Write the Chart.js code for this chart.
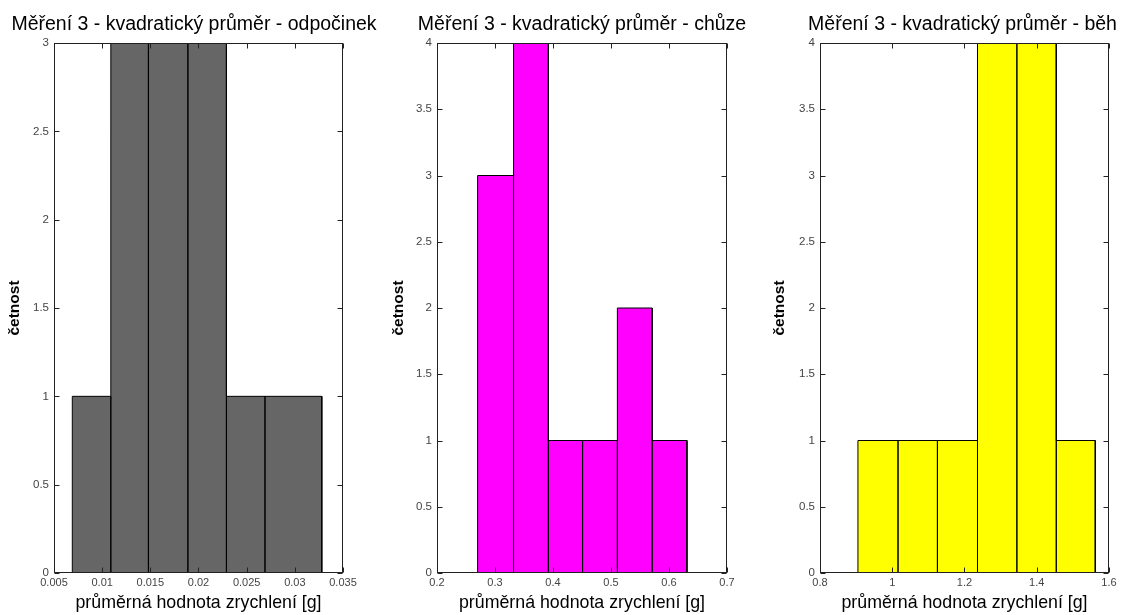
<!DOCTYPE html>
<html lang="cs">
    <head>
        <meta charset="UTF-8" />
        <title>Měření 3 - kvadratický průměr</title>
        <script src="https://cdn.jsdelivr.net/npm/chart.js@4.4.0/dist/chart.umd.min.js"></script>
        <style>
            html, body { margin: 0; padding: 0; background: #fff; overflow: hidden; }
            canvas { position: absolute; top: 0; }
        </style>
    </head>
    <body>
        <canvas id="c1" width="388" height="615" style="left:0px"></canvas>
        <canvas id="c2" width="404" height="615" style="left:380px"></canvas>
        <canvas id="c3" width="405" height="615" style="left:760px"></canvas>
        <script>
            // histogram data (bin edges + counts)
            const titles = [
                "Měření 3 - kvadratický průměr - odpočinek",
                "Měření 3 - kvadratický průměr - chůze",
                "Měření 3 - kvadratický průměr - běh"
            ];
            const xTitle = "průměrná hodnota zrychlení [g]";
            const yTitle = "četnost";

            const edges1 = [0.0069, 0.0109, 0.0148, 0.0189, 0.0229, 0.0269, 0.0328];
            const counts1 = [1, 3, 3, 3, 1, 1];
            const edges2 = [0.270, 0.332, 0.392, 0.451, 0.511, 0.571, 0.631];
            const counts2 = [3, 4, 1, 1, 2, 1];
            const edges3 = [0.905, 1.016, 1.125, 1.236, 1.345, 1.454, 1.562];
            const counts3 = [1, 1, 1, 4, 4, 1];

            const xTicks1 = [0.005, 0.01, 0.015, 0.02, 0.025, 0.03, 0.035];
            const xTicks2 = [0.2, 0.3, 0.4, 0.5, 0.6, 0.7];
            const xTicks3 = [0.8, 1, 1.2, 1.4, 1.6];
            const yTicks1 = [0, 0.5, 1, 1.5, 2, 2.5, 3];
            const yTicks2 = [0, 0.5, 1, 1.5, 2, 2.5, 3, 3.5, 4];
            const yTicks3 = [0, 0.5, 1, 1.5, 2, 2.5, 3, 3.5, 4];

            const colors = ['#666666', '#ff00ff', '#ffff00'];
            const FONT = '"Liberation Sans", Arial, sans-serif';

            // matlab-like box with inward ticks on all four sides
            const boxTicks = {
                id: 'boxTicks',
                afterDatasetsDraw(chart) {
                    const {ctx, chartArea: a, scales: {x, y}} = chart;
                    const L = Math.round(a.left) + 0.5, R = Math.round(a.right) - 0.5;
                    const T = Math.round(a.top) + 0.5, B = Math.round(a.bottom) - 0.5;
                    ctx.save();
                    ctx.strokeStyle = '#222';
                    ctx.lineWidth = 1;
                    ctx.beginPath();
                    x.ticks.forEach(t => {
                        const px = Math.round(x.getPixelForValue(t.value)) + 0.5;
                        ctx.moveTo(px, B); ctx.lineTo(px, B - 5);
                        ctx.moveTo(px, T); ctx.lineTo(px, T + 5);
                    });
                    y.ticks.forEach(t => {
                        const py = Math.round(y.getPixelForValue(t.value)) + 0.5;
                        ctx.moveTo(L, py); ctx.lineTo(L + 5, py);
                        ctx.moveTo(R, py); ctx.lineTo(R - 5, py);
                    });
                    ctx.stroke();
                    ctx.strokeRect(L, T, R - L, B - T);
                    ctx.restore();
                }
            };

            function histPoints(edges, counts) {
                const pts = [{x: edges[0], y: 0}];
                counts.forEach((c, i) => {
                    pts.push({x: edges[i], y: c});
                    pts.push({x: edges[i + 1], y: c});
                    pts.push({x: edges[i + 1], y: 0});
                });
                return pts;
            }

            function makeChart(id, title, edges, counts, xTicks, yTicks, color, yAxisW, padRight, yTitlePad) {
                const ctx = document.getElementById(id).getContext('2d');
                return new Chart(ctx, {
                    type: 'scatter',
                    data: {
                        datasets: [{
                            data: histPoints(edges, counts),
                            showLine: true,
                            fill: 'origin',
                            backgroundColor: color,
                            borderColor: '#000',
                            borderWidth: 1,
                            pointRadius: 0,
                            tension: 0
                        }]
                    },
                    options: {
                        responsive: false,
                        animation: false,
                        devicePixelRatio: 1,
                        layout: { padding: 0 },
                        plugins: {
                            legend: { display: false },
                            tooltip: { enabled: false },
                            title: {
                                display: true,
                                text: title,
                                color: '#000',
                                font: { family: FONT, size: 19.5, weight: 'normal' },
                                padding: { top: 13.3, bottom: 6.3 }
                            }
                        },
                        scales: {
                            x: {
                                type: 'linear',
                                min: xTicks[0],
                                max: xTicks[xTicks.length - 1],
                                grid: { display: false, drawTicks: false },
                                border: { display: false },
                                afterBuildTicks: s => { s.ticks = xTicks.map(v => ({value: v})); },
                                afterFit: s => { s.height = 42; },
                                ticks: {
                                    autoSkip: false,
                                    maxRotation: 0,
                                    padding: 3,
                                    color: '#444',
                                    font: { family: FONT, size: 11 },
                                    callback: v => String(v)
                                },
                                title: {
                                    display: true,
                                    text: xTitle,
                                    color: '#000',
                                    font: { family: FONT, size: 17.8 },
                                    padding: { top: 0, bottom: 1.3 }
                                }
                            },
                            y: {
                                type: 'linear',
                                min: yTicks[0],
                                max: yTicks[yTicks.length - 1],
                                grid: { display: false, drawTicks: false },
                                border: { display: false },
                                afterBuildTicks: s => { s.ticks = yTicks.map(v => ({value: v})); },
                                afterFit: s => { s.width = yAxisW; },
                                ticks: {
                                    padding: 5,
                                    color: '#444',
                                    font: { family: FONT, size: 11.5 },
                                    callback: v => String(v)
                                },
                                title: {
                                    display: true,
                                    text: yTitle,
                                    color: '#000',
                                    font: { family: FONT, size: 15.5, weight: 'bold' },
                                    padding: { top: yTitlePad, bottom: 0 }
                                }
                            },
                            // empty right axis, only keeps the plot where the title wants it
                            yRight: {
                                type: 'linear',
                                position: 'right',
                                grid: { display: false, drawTicks: false },
                                border: { display: false },
                                ticks: { display: false },
                                afterFit: s => { s.width = padRight; }
                            }
                        }
                    },
                    plugins: [boxTicks]
                });
            }

            makeChart('c1', titles[0], edges1, counts1, xTicks1, yTicks1, colors[0], 54, 45, 5.7);
            makeChart('c2', titles[1], edges2, counts2, xTicks2, yTicks2, colors[1], 57, 57, 9.7);
            makeChart('c3', titles[2], edges3, counts3, xTicks3, yTicks3, colors[2], 60, 56, 10.7);
        </script>
    </body>
</html>
